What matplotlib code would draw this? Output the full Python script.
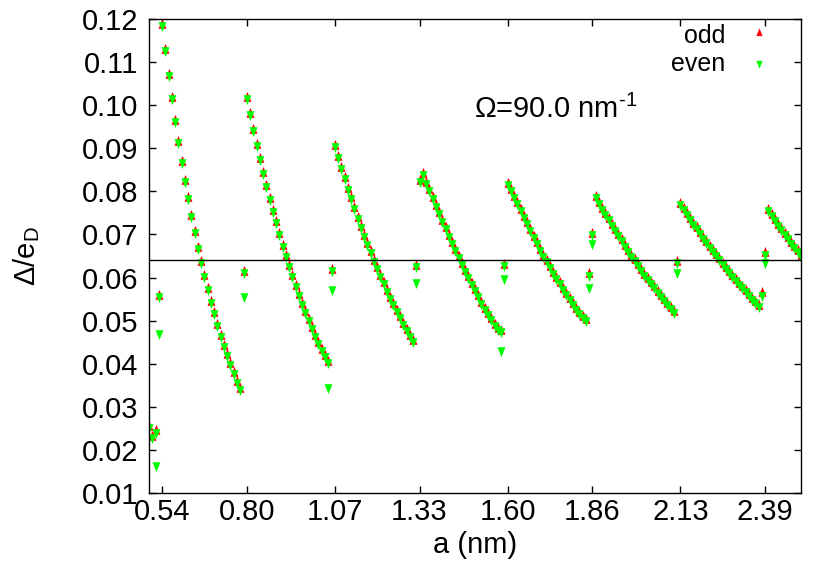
import numpy as np
import matplotlib.pyplot as plt

plt.rcParams['font.family'] = ['Liberation Sans', 'DejaVu Sans']
plt.rcParams['mathtext.fontset'] = 'custom'
plt.rcParams['mathtext.rm'] = 'Liberation Sans'
plt.rcParams['mathtext.it'] = 'Liberation Sans'

# main branches (odd and even coincide here), a step 0.01 nm
branch_start = [0.54, 0.80, 1.07, 1.33, 1.60, 1.87, 2.13, 2.40]
branch1 = [0.1186, 0.1128, 0.1070, 0.1016, 0.0963, 0.0915, 0.0869, 0.0824, 0.0784, 0.0743,
           0.0705, 0.0669, 0.0635, 0.0604, 0.0573, 0.0544, 0.0517, 0.0491, 0.0465, 0.0442,
           0.0420, 0.0399, 0.0378, 0.0358, 0.0341]
branch2 = [0.1016, 0.0979, 0.0942, 0.0908, 0.0875, 0.0843, 0.0813, 0.0782, 0.0754, 0.0728,
           0.0700, 0.0674, 0.0650, 0.0627, 0.0604, 0.0581, 0.0560, 0.0539, 0.0519, 0.0501,
           0.0482, 0.0465, 0.0448, 0.0431, 0.0417, 0.0405]
branch3 = [0.0905, 0.0880, 0.0855, 0.0830, 0.0805, 0.0784, 0.0761, 0.0739, 0.0718, 0.0697,
           0.0677, 0.0659, 0.0639, 0.0621, 0.0604, 0.0587, 0.0569, 0.0553, 0.0538, 0.0522,
           0.0508, 0.0493, 0.0478, 0.0465, 0.0453]
branch4 = [0.0825, 0.0840, 0.0820, 0.0802, 0.0784, 0.0766, 0.0749, 0.0731, 0.0714, 0.0696,
           0.0679, 0.0664, 0.0647, 0.0631, 0.0615, 0.0601, 0.0585, 0.0570, 0.0556, 0.0542,
           0.0528, 0.0515, 0.0503, 0.0491, 0.0480, 0.0476]
branch5 = [0.0817, 0.0803, 0.0788, 0.0772, 0.0757, 0.0741, 0.0726, 0.0710, 0.0695, 0.0679,
           0.0665, 0.0651, 0.0638, 0.0625, 0.0611, 0.0599, 0.0587, 0.0574, 0.0562, 0.0550,
           0.0539, 0.0528, 0.0517, 0.0508, 0.0501]
branch6 = [0.0786, 0.0773, 0.0760, 0.0747, 0.0735, 0.0722, 0.0710, 0.0698, 0.0686, 0.0674,
           0.0662, 0.0651, 0.0640, 0.0629, 0.0618, 0.0607, 0.0597, 0.0587, 0.0577, 0.0567,
           0.0557, 0.0547, 0.0538, 0.0529, 0.0520]
branch7 = [0.0770, 0.0758, 0.0747, 0.0736, 0.0725, 0.0714, 0.0703, 0.0692, 0.0682, 0.0672,
           0.0662, 0.0652, 0.0642, 0.0632, 0.0622, 0.0613, 0.0604, 0.0595, 0.0586, 0.0577,
           0.0568, 0.0559, 0.0551, 0.0543, 0.0535]
branch8 = [0.0757, 0.0745, 0.0734, 0.0723, 0.0712, 0.0701, 0.0691, 0.0681, 0.0671, 0.0661,
           0.0651]
branches = [branch1, branch2, branch3, branch4, branch5, branch6, branch7, branch8]

# isolated points near the branch jumps
odd_iso_a = [0.50, 0.51, 0.52, 0.53, 0.79, 1.06, 1.32, 1.59, 1.85, 1.86, 2.12, 2.38, 2.39]
odd_iso = [0.0254, 0.0231, 0.0244, 0.0557, 0.0614, 0.0618, 0.0627, 0.0629, 0.0608, 0.0701,
           0.0637, 0.0563, 0.0656]
even_iso_a = [0.50, 0.51, 0.52, 0.52, 0.53, 0.53, 0.79, 0.79, 1.05, 1.06, 1.06, 1.32, 1.32,
              1.58, 1.59, 1.59, 1.85, 1.85, 1.86, 1.86, 2.12, 2.12, 2.38, 2.39, 2.39]
even_iso = [0.0252, 0.0231, 0.0242, 0.0165, 0.0556, 0.0472, 0.0613, 0.0556, 0.0347, 0.0617,
            0.0573, 0.0626, 0.0589, 0.0432, 0.0628, 0.0598, 0.0607, 0.0578, 0.0700, 0.0680,
            0.0636, 0.0613, 0.0560, 0.0655, 0.0637]

level = 0.064
xticks = [0.54, 0.80, 1.07, 1.33, 1.60, 1.86, 2.13, 2.39]
yticks = [0.01, 0.02, 0.03, 0.04, 0.05, 0.06, 0.07, 0.08, 0.09, 0.10, 0.11, 0.12]

a_curve = np.concatenate([s + 0.01 * np.arange(len(b)) for s, b in zip(branch_start, branches)])
d_curve = np.concatenate(branches)

odd_a = np.concatenate([a_curve, odd_iso_a])
odd_d = np.concatenate([d_curve, odd_iso])
even_a = np.concatenate([a_curve, even_iso_a])
even_d = np.concatenate([d_curve, even_iso])

# gnuplot-like triangles, centred on their centroid
tri_up = [(0, 1), (-0.6, -0.5), (0.6, -0.5), (0, 1)]
tri_dn = [(0, -1), (-0.6, 0.5), (0.6, 0.5), (0, -1)]

fig = plt.figure(figsize=(8.3, 5.81), dpi=100)
ax = fig.add_axes([0.1795, 0.1515, 0.7855, 0.8158])

ms = 9.5
ax.plot(odd_a, odd_d, ls='none', marker=tri_up, ms=ms, color='#ff0000', mew=0)
ax.plot(even_a, even_d, ls='none', marker=tri_dn, ms=ms, color='#00ff00', mew=0)
ax.axhline(level, color='black', lw=1.0)

ax.set_xlim(0.5, 2.5)
ax.set_ylim(0.01, 0.12)
ax.set_xticks(xticks)
ax.set_xticklabels(['%.2f' % v for v in xticks])
ax.set_yticks(yticks)
ax.set_yticklabels(['%.2f' % v for v in yticks])
ax.tick_params(direction='in', length=5, width=1, labelsize=21, top=True, right=True)
ax.tick_params(axis='y', pad=7.5)
ax.tick_params(axis='x', pad=3.5)
for sp in ax.spines.values():
    sp.set_linewidth(1.0)

ax.set_xlabel('a (nm)', fontsize=21)
ax.xaxis.set_label_coords(0.5, -0.080)
ax.set_ylabel(r'$\Delta$/e$_\mathrm{D}$', fontsize=21)
ax.yaxis.set_label_coords(-0.164, 0.5)

ax.text(0.4985, 0.791, r'Ω=90.0 nm$^{\text{-1}}$', transform=ax.transAxes,
        fontsize=21, ha='left', va='baseline')

# gnuplot style key: label right-aligned, sample on the right
ax.text(0.884, 0.9487, 'odd', transform=ax.transAxes, fontsize=18, ha='right', va='baseline')
ax.text(0.884, 0.890, 'even', transform=ax.transAxes, fontsize=18, ha='right', va='baseline')
ax.plot([0.9356], [0.9698], transform=ax.transAxes, marker=tri_up, ms=7.5, color='#ff0000', mew=0)
ax.plot([0.9356], [0.9078], transform=ax.transAxes, marker=tri_dn, ms=7.5, color='#00ff00', mew=0)

fig.savefig('out.png', dpi=100)
